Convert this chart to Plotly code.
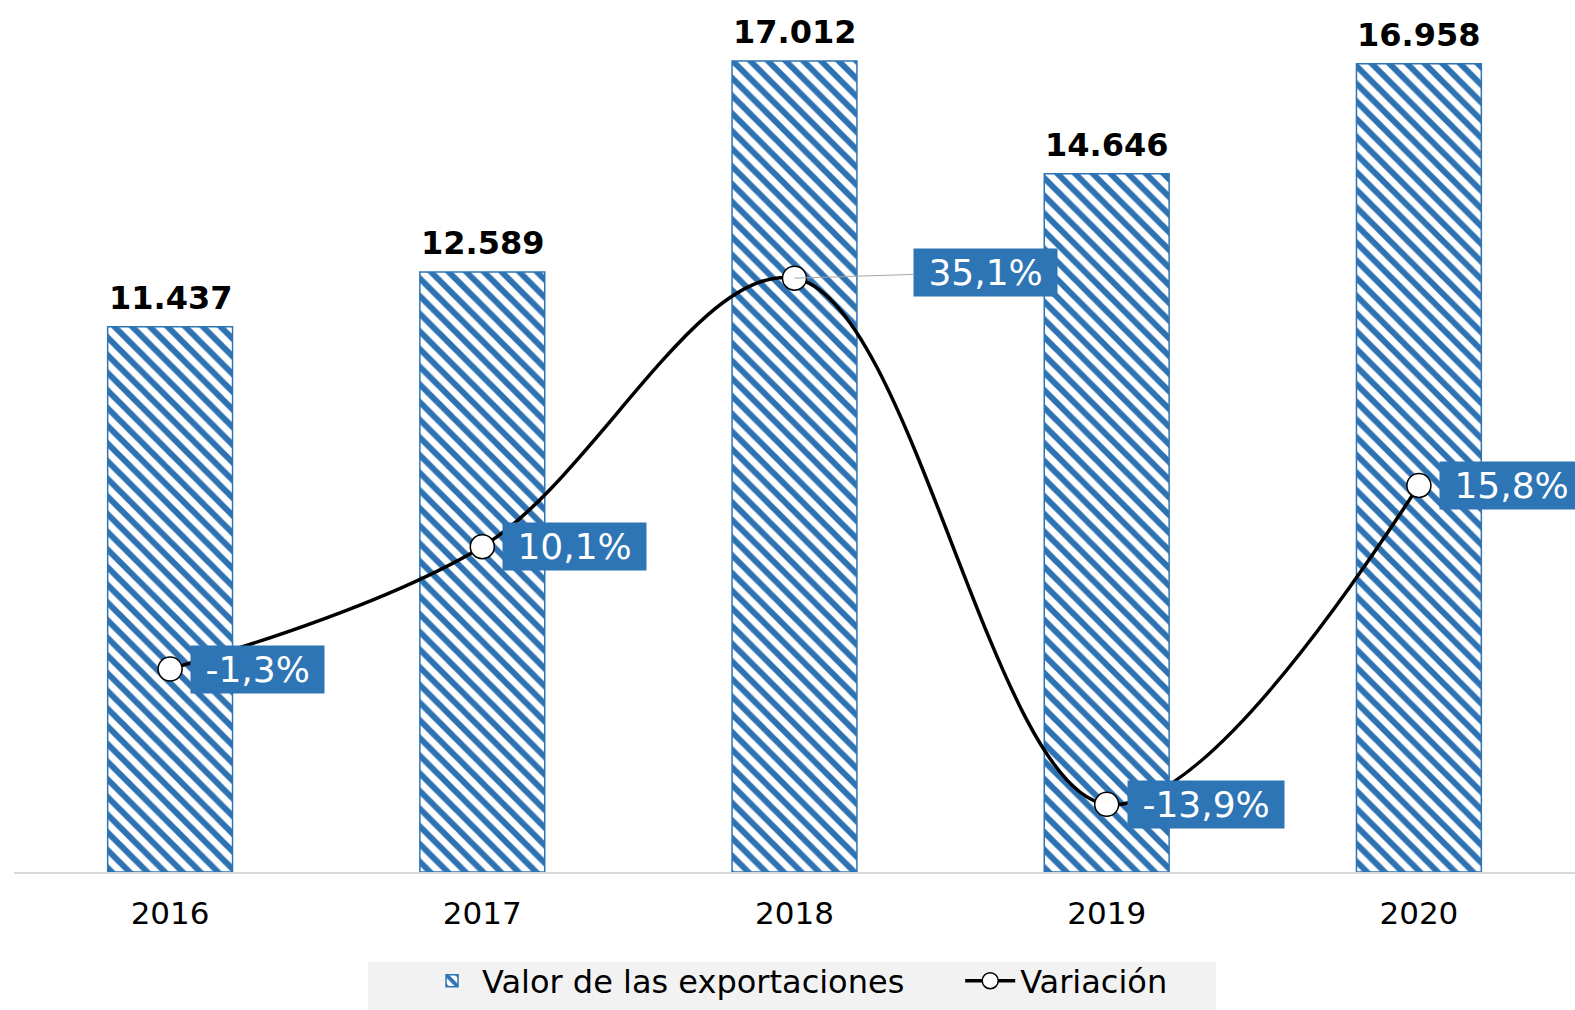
import plotly.graph_objects as go

years = ["2016", "2017", "2018", "2019", "2020"]
export_values = [11437, 12589, 17012, 14646, 16958]
variation_pct = [-1.3, 10.1, 35.1, -13.9, 15.8]

BLUE = "#2E75B6"
STRIPE = "#2E72B2"
FONT = "DejaVu Sans"

fig = go.Figure()

fig.add_trace(go.Bar(
    x=years, y=export_values, name="Valor de las exportaciones\u00a0\u00a0\u00a0\u00a0\u00a0",
    width=0.4,
    marker=dict(color="white", line=dict(color=BLUE, width=1.5),
                pattern=dict(shape="\\", fgcolor=STRIPE, bgcolor="white", fgopacity=1,
                             size=12.5, solidity=0.48)),
    hoverinfo="skip",
))

fig.add_trace(go.Scatter(
    x=years, y=variation_pct, name="Variación", yaxis="y2",
    mode="lines+markers",
    line=dict(color="black", width=3.5, shape="spline", smoothing=1.0),
    marker=dict(size=24, color="white", line=dict(color="black", width=1.5)),
    hoverinfo="skip",
))

annotations = []
# bar value labels
for i, v in enumerate(export_values):
    annotations.append(dict(
        x=i, y=v, xref="x", yref="y", text="<b>" + f"{v:,}".replace(",", ".") + "</b>",
        showarrow=False, yanchor="bottom", yshift=8,
        font=dict(family=FONT, size=32, color="black"),
    ))

# variation labels
for i, p in enumerate(variation_pct):
    txt = "\u00a0" + f"{p:.1f}".replace(".", ",") + "%" + "\u00a0"
    common = dict(
        x=i, y=p, xref="x", yref="y2", text=txt,
        font=dict(family=FONT, size=36, color="white"),
        bgcolor=BLUE, borderpad=3,
    )
    if years[i] == "2018":
        annotations.append(dict(common, showarrow=True, ax=191, ay=-6,
                                arrowhead=0, arrowwidth=1, arrowcolor="#A6A6A6",
                                standoff=0))
    else:
        annotations.append(dict(common, showarrow=False, xanchor="left",
                                yanchor="middle", xshift=20))

fig.update_layout(
    width=1575, height=1010,
    margin=dict(l=14, r=0, t=14, b=138),
    paper_bgcolor="white", plot_bgcolor="white",
    font=dict(family=FONT, size=30, color="black"),
    showlegend=True,
    legend=dict(orientation="h", x=0.2614, xanchor="left", y=-0.159, yanchor="bottom",
                bgcolor="rgba(0,0,0,0)", font=dict(family=FONT, size=32, color="black"),
                traceorder="normal", itemwidth=50),
    shapes=[dict(type="rect", xref="paper", yref="paper", x0=0.2268, x1=0.770,
                 y0=-0.1608, y1=-0.1049, fillcolor="#F2F2F2", line=dict(width=0),
                 layer="below")],
    xaxis=dict(type="category", range=[-0.5, 4.5], showgrid=False, showline=True,
               linecolor="#D9D9D9", linewidth=1.5, ticks="",
               tickfont=dict(family=FONT, size=31, color="black"),
               ticklabelstandoff=13, zeroline=False, automargin=False),
    yaxis=dict(range=[0, 18000], visible=False, showgrid=False, zeroline=False),
    yaxis2=dict(range=[-20.2, 59.7], overlaying="y", visible=False, showgrid=False,
                zeroline=False),
    annotations=annotations,
)

fig.write_html("out.html", config={"displayModeBar": False},
               post_script="document.body.style.margin='0';document.body.style.overflow='hidden';")
